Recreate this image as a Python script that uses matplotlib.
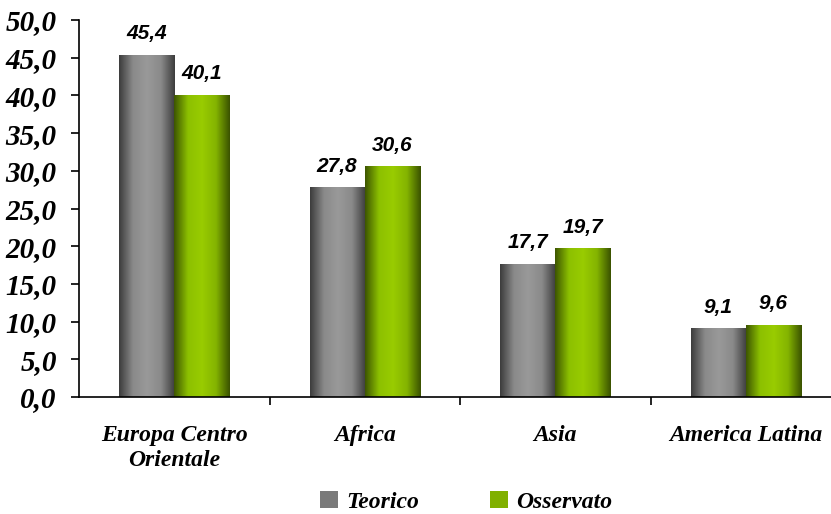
import numpy as np
import matplotlib
matplotlib.use("Agg")
import matplotlib.pyplot as plt
from matplotlib.colors import LinearSegmentedColormap
from matplotlib.patches import Patch

# dati
categorie = ["Europa Centro\nOrientale", "Africa", "Asia", "America Latina"]
teorico = [45.4, 27.8, 17.7, 9.1]
osservato = [40.1, 30.6, 19.7, 9.6]
serie = ["Teorico", "Osservato"]

serif = "Liberation Serif"
sans = "Liberation Sans"

cm_grigio = LinearSegmentedColormap.from_list(
    "grigio", ["#3c3c3c", "#8a8a8a", "#999999", "#8a8a8a", "#3c3c3c"])
cm_verde = LinearSegmentedColormap.from_list(
    "verde", ["#3d5500", "#8cc000", "#99cc00", "#84b400", "#3a5200"])

fig = plt.figure(figsize=(8.31, 5.14), dpi=100)
ax = fig.add_axes([79/831, 117/514, 762/831, 377/514])

x = np.arange(len(categorie))
w = 0.29
grad = np.linspace(0, 1, 256).reshape(1, -1)


def barre_gradiente(xs, vals, cmap):
    bars = ax.bar(xs, vals, w, color="none", edgecolor="none")
    for b in bars:
        x0, y0 = b.get_x(), b.get_y()
        im = ax.imshow(grad, cmap=cmap, aspect="auto",
                       extent=[x0, x0 + b.get_width(), y0, y0 + b.get_height()],
                       zorder=2)
        im.set_clip_path(b)
    return bars


b1 = barre_gradiente(x - w/2, teorico, cm_grigio)
b2 = barre_gradiente(x + w/2, osservato, cm_verde)

for bars, vals in ((b1, teorico), (b2, osservato)):
    for b, v in zip(bars, vals):
        ax.text(b.get_x() + b.get_width()/2, v + 1.5, f"{v:.1f}".replace(".", ","),
                ha="center", va="bottom", fontsize=15, fontweight="bold",
                fontstyle="italic", family=sans)

ax.set_xlim(-0.5, len(categorie) - 0.5)
ax.set_ylim(0, 50)
ax.set_yticks(np.arange(0, 51, 5))
ax.set_yticklabels([f"{v:.1f}".replace(".", ",") for v in np.arange(0, 51, 5)],
                   family=serif, fontsize=21, fontweight="bold", fontstyle="italic")

ax.set_xticks(np.arange(0.5, len(categorie) - 0.5, 1))
ax.set_xticklabels([])
ax.set_xticks(x, minor=True)
ax.set_xticklabels(categorie, minor=True, family=serif, fontsize=17,
                   fontweight="bold", fontstyle="italic", linespacing=1.25)
ax.tick_params(axis="x", which="minor", length=0, pad=20)
ax.tick_params(axis="x", which="major", length=6, direction="out", width=1.2)
ax.tick_params(axis="y", length=6, direction="out", width=1.2, pad=10)

for s in ("top", "right"):
    ax.spines[s].set_visible(False)
for s in ("left", "bottom"):
    ax.spines[s].set_linewidth(1.2)

handles = [Patch(facecolor="#7a7a7a"), Patch(facecolor="#80b000")]
fig.legend(handles, serie, loc="center", bbox_to_anchor=(466/831, 12/514),
           ncol=2, frameon=False, handlelength=0.75, handleheight=0.75,
           columnspacing=3.0, handletextpad=0.35,
           prop={"family": serif, "size": 17, "weight": "bold", "style": "italic"})

fig.savefig("out.png", dpi=100)
